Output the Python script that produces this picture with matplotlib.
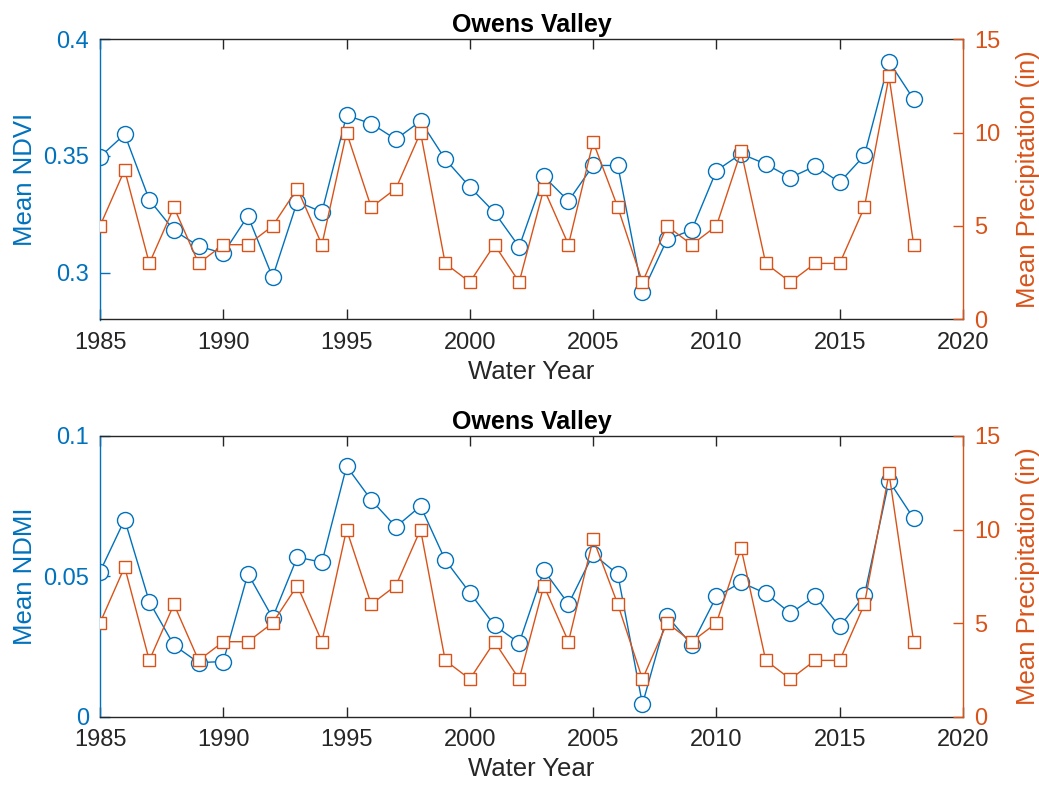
import matplotlib
matplotlib.use("Agg")
import matplotlib.pyplot as plt
import numpy as np

years = list(range(1985, 2019))
ndvi = [0.3496, 0.3592, 0.3312, 0.3181, 0.3114, 0.3083, 0.3243, 0.2981, 0.3304, 0.3260,
        0.3673, 0.3638, 0.3571, 0.3649, 0.3486, 0.3367, 0.3258, 0.3111, 0.3412, 0.3307,
        0.3459, 0.3459, 0.2916, 0.3143, 0.3183, 0.3437, 0.3509, 0.3465, 0.3407, 0.3456,
        0.3387, 0.3502, 0.3903, 0.3742]
ndmi = [0.0516, 0.0702, 0.0409, 0.0254, 0.0192, 0.0196, 0.0509, 0.0352, 0.0568, 0.0550,
        0.0892, 0.0772, 0.0676, 0.0750, 0.0558, 0.0441, 0.0325, 0.0262, 0.0521, 0.0401,
        0.0579, 0.0507, 0.0044, 0.0358, 0.0255, 0.0428, 0.0478, 0.0439, 0.0368, 0.0428,
        0.0321, 0.0432, 0.0840, 0.0706]
precip = [5, 8, 3, 6, 3, 4, 4, 5, 7, 4, 10, 6, 7, 10, 3, 2, 4, 2, 7, 4,
          9.5, 6, 2, 5, 4, 5, 9, 3, 2, 3, 3, 6, 13, 4]

title = "Owens Valley"
xlabel = "Water Year"
ylabels = ["Mean NDVI", "Mean NDMI"]
ylabel_r = "Mean Precipitation (in)"

BLUE = "#0072BD"
ORANGE = "#D95319"
DARK = "#262626"

plt.rcParams['font.family'] = ['Liberation Sans', 'DejaVu Sans']

fig = plt.figure(figsize=(10.39, 7.9), dpi=100)
left, width = 100/1039, 863/1039
axes_specs = [
    (1 - 319.5/790, 280.5/790, ndvi, ylabels[0], (0.28, 0.4), [0.3, 0.35, 0.4], ["0.3", "0.35", "0.4"]),
    (1 - 716.5/790, 280.5/790, ndmi, ylabels[1], (0, 0.1), [0, 0.05, 0.1], ["0", "0.05", "0.1"]),
]

TICK_FS = 17
LAB_FS = 18.5

for bottom, height, vals, ylab, ylim, yt, ytl in axes_specs:
    ax = fig.add_axes([left, bottom, width, height])
    ax.plot(years, vals, '-o', color=BLUE, lw=1.0, ms=11.5, mfc='white', mec=BLUE, mew=1.0)
    ax.set_xlim(1985, 2020)
    ax.set_ylim(*ylim)
    ax.set_yticks(yt)
    ax.set_yticklabels(ytl)
    ax.set_xticks(range(1985, 2021, 5))
    ax.tick_params(axis='x', direction='in', top=True, length=7, width=1, colors=DARK,
                   labelsize=TICK_FS, pad=9)
    ax.tick_params(axis='y', direction='in', length=7, width=1, colors=BLUE, labelsize=TICK_FS, pad=8)
    for s in ['top', 'bottom']:
        ax.spines[s].set_color(DARK)
        ax.spines[s].set_linewidth(1.0)
    ax.spines['left'].set_color(BLUE)
    ax.spines['left'].set_linewidth(1.0)
    ax.spines['right'].set_visible(False)
    ax.set_xlabel(xlabel, fontsize=LAB_FS, color=DARK, labelpad=4)
    ax.set_ylabel(ylab, fontsize=LAB_FS, color=BLUE, labelpad=4)
    ax.set_title(title, fontsize=18, fontweight='bold', color='black', pad=5)

    ax2 = ax.twinx()
    ax2.plot(years, precip, '-s', color=ORANGE, lw=1.0, ms=9, mfc='white', mec=ORANGE, mew=1.0)
    ax2.set_ylim(0, 15)
    ax2.set_yticks([0, 5, 10, 15])
    ax2.tick_params(axis='y', direction='in', length=7, width=1, colors=ORANGE, labelsize=TICK_FS, pad=8)
    for s in ['top', 'bottom', 'left']:
        ax2.spines[s].set_visible(False)
    ax2.spines['right'].set_color(ORANGE)
    ax2.spines['right'].set_linewidth(1.0)
    ax2.set_ylabel(ylabel_r, fontsize=LAB_FS, color=ORANGE, labelpad=11)

fig.savefig("out.png", dpi=100, facecolor='white')
